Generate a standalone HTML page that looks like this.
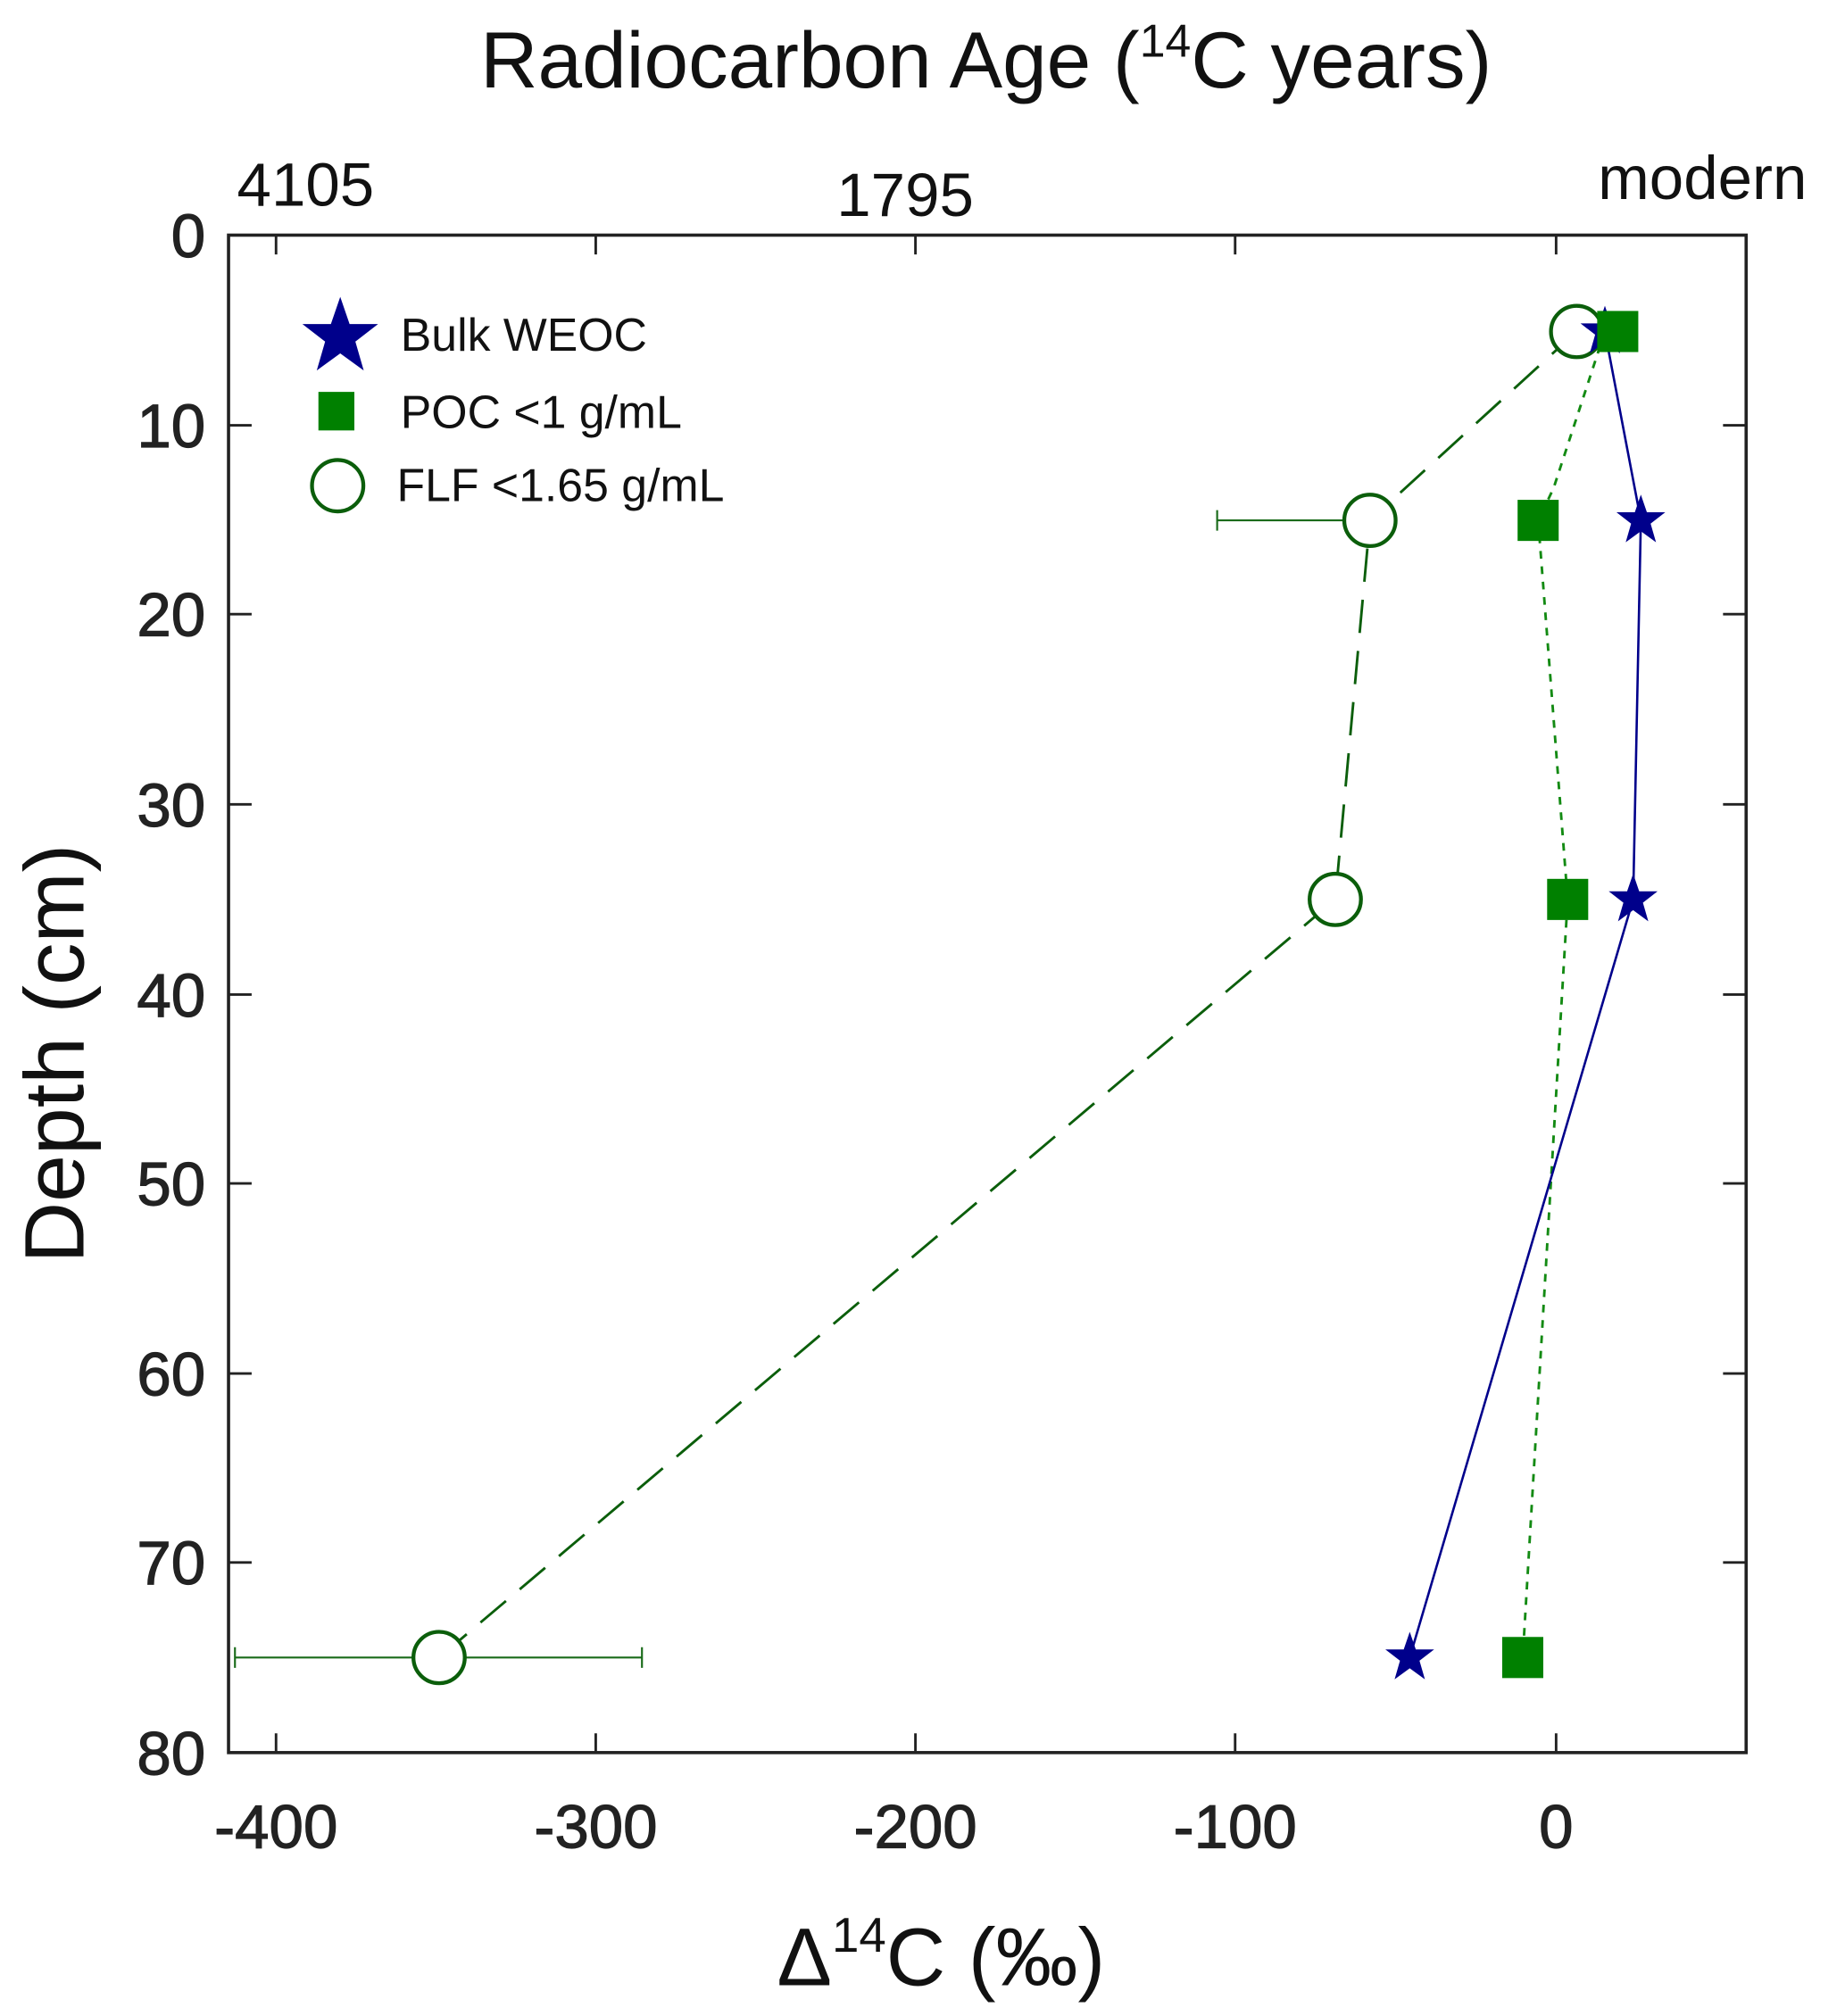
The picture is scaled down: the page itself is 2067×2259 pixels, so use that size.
<!DOCTYPE html>
<html><head><meta charset="utf-8"><style>html,body{margin:0;padding:0;background:#fff}svg{display:block}</style></head>
<body>
<svg width="2067" height="2259" viewBox="0 0 1437 1569" preserveAspectRatio="none" xmlns="http://www.w3.org/2000/svg" font-family="Liberation Sans, sans-serif">
<defs>
<polygon id="st" points="0,-20 4.7,-6.3 19,-6.3 7.6,2.5 11.8,17 0,8.4 -11.8,17 -7.6,2.5 -19,-6.3 -4.7,-6.3" fill="#00008b"/>
</defs>
<rect x="178" y="183" width="1182" height="1181" fill="none" stroke="#222" stroke-width="2.5"/>
<g stroke="#222" stroke-width="2">
<path d="M215,1364v-15M464,1364v-15M713,1364v-15M962,1364v-15M1212,1364v-15"/>
<path d="M215,183v15M464,183v15M713,183v15M962,183v15M1212,183v15"/>
<path d="M178,331h18M178,478h18M178,626h18M178,774h18M178,921h18M178,1069h18M178,1216h18"/>
<path d="M1360,331h-18M1360,478h-18M1360,626h-18M1360,774h-18M1360,921h-18M1360,1069h-18M1360,1216h-18"/>
</g>
<g font-size="48" fill="#222" text-anchor="end" stroke="#222" stroke-width="0.8">
<text x="160" y="200">0</text><text x="160" y="348">10</text><text x="160" y="495">20</text><text x="160" y="643">30</text><text x="160" y="791">40</text><text x="160" y="938">50</text><text x="160" y="1086">60</text><text x="160" y="1233">70</text><text x="160" y="1381">80</text>
</g>
<g font-size="48" fill="#222" text-anchor="middle" stroke="#222" stroke-width="0.8">
<text x="215" y="1438">-400</text><text x="464" y="1438">-300</text><text x="713" y="1438">-200</text><text x="962" y="1438">-100</text><text x="1212" y="1438">0</text>
</g>
<g font-size="48" fill="#111" text-anchor="middle">
<text x="238" y="160">4105</text><text x="705" y="168">1795</text><text x="1326" y="155">modern</text>
</g>
<text x="768" y="68" font-size="62" text-anchor="middle" fill="#111">Radiocarbon Age (<tspan font-size="36" dy="-24">14</tspan><tspan dy="24">C years)</tspan></text>
<text x="733" y="1545" font-size="64" text-anchor="middle" fill="#111">Δ<tspan font-size="38" dy="-26">14</tspan><tspan dy="26">C (‰)</tspan></text>
<text transform="translate(65,820) rotate(-90)" font-size="66" text-anchor="middle" fill="#111">Depth (cm)</text>
<g stroke="#1a6b1a" stroke-width="1.5">
<path d="M948,405H1067M948,397v16"/>
<path d="M183,1290H500M183,1282v16M500,1282v16"/>
<path d="M1220,250v16M1236,250v16M1033,692v16M1047,692v16"/>
</g>
<polyline points="1228,258 1067,405 1040,700 342,1290" fill="none" stroke="#0b5e0b" stroke-width="2" stroke-dasharray="26,14"/>
<polyline points="1250,258 1210,380 1198,405 1221,700 1186,1290" fill="none" stroke="#138a13" stroke-width="2" stroke-dasharray="6,6"/>
<polyline points="1250,258 1278,405 1272,700 1098,1290" fill="none" stroke="#00008b" stroke-width="1.8"/>
<g fill="#fff" stroke="#0b5e0b" stroke-width="3">
<circle cx="1228" cy="258" r="20"/><circle cx="1067" cy="405" r="20"/><circle cx="1040" cy="700" r="20"/><circle cx="342" cy="1290" r="20"/>
</g>
<use href="#st" x="1250" y="258"/><use href="#st" x="1278" y="405"/><use href="#st" x="1272" y="700"/><use href="#st" x="1098" y="1290"/>
<g fill="#008000">
<rect x="1244" y="242" width="32" height="32"/><rect x="1182" y="389" width="32" height="32"/><rect x="1205" y="684" width="32" height="32"/><rect x="1170" y="1274" width="32" height="32"/>
</g>
<use href="#st" transform="translate(265,262) scale(1.55)"/>
<rect x="248" y="305" width="28" height="30" fill="#008000"/>
<circle cx="263" cy="378" r="20" fill="#fff" stroke="#0b5e0b" stroke-width="3"/>
<g font-size="36" fill="#111">
<text x="312" y="273">Bulk WEOC</text>
<text x="312" y="333">POC  &lt;1 g/mL</text>
<text x="309" y="390">FLF &lt;1.65 g/mL</text>
</g>
</svg>
</body></html>
